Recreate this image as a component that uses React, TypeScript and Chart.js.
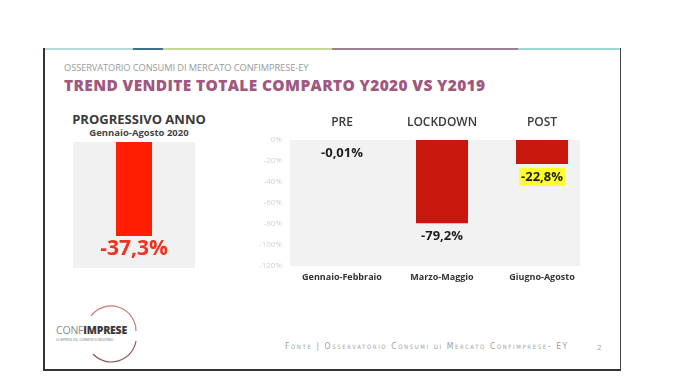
import React, { useEffect, useRef } from "react";
import { Chart, registerables } from "chart.js";

Chart.register(...registerables);

// ---- data ----
const phases = ["PRE", "LOCKDOWN", "POST"];
const periods = ["Gennaio-Febbraio", "Marzo-Maggio", "Giugno-Agosto"];
const changes = [-0.01, -79.2, -22.8];
const highlighted = [false, false, true];
const yTicks = [0, -20, -40, -60, -80, -100, -120];
const ytdPeriod = ["Gennaio-Agosto 2020"];
const ytdChange = [-37.3];

const fmt = (v: number) => String(v).replace(".", ",") + "%";
const FONT = '"Open Sans", "DejaVu Sans", sans-serif';

function RightChart() {
  const ref = useRef<HTMLCanvasElement>(null);
  useEffect(() => {
    const labelPlugin = {
      id: "valLabels",
      afterDatasetsDraw(chart: any) {
        const ctx = chart.ctx;
        const xs = chart.scales.x;
        const ys = chart.scales.y;
        ctx.save();
        ctx.textAlign = "center";
        ctx.textBaseline = "middle";
        ctx.font = `600 12px ${FONT}`;
        ctx.fillStyle = "#3a3a3a";
        phases.forEach((p, i) => {
          ctx.fillText(p, xs.getPixelForValue(i), chart.chartArea.top - 17);
        });
        ctx.font = `bold 13px ${FONT}`;
        changes.forEach((v, i) => {
          const x = xs.getPixelForValue(i);
          const y = ys.getPixelForValue(v) + 13;
          const t = fmt(v);
          if (highlighted[i]) {
            const w = ctx.measureText(t).width + 4;
            ctx.fillStyle = "#ffff2e";
            ctx.fillRect(x - w / 2, y - 9, w, 18);
          }
          ctx.fillStyle = "#1e1e1e";
          ctx.fillText(t, x, y);
        });
        ctx.restore();
      },
    };
    const bgPlugin = {
      id: "bg",
      beforeDraw(chart: any) {
        const { ctx, chartArea } = chart;
        ctx.save();
        ctx.fillStyle = "#f2f2f2";
        ctx.fillRect(chartArea.left, chartArea.top, chartArea.right - chartArea.left, chartArea.bottom - chartArea.top);
        ctx.restore();
      },
    };
    const chart = new Chart(ref.current!, {
      type: "bar",
      data: {
        datasets: [
          {
            data: changes.map((v, i) => ({ x: i, y: v })),
            backgroundColor: "#c8170d",
            categoryPercentage: 1,
            barPercentage: 0.52,
          },
        ],
      },
      options: {
        animation: false,
        responsive: false,
        maintainAspectRatio: false,
        layout: { padding: { top: 35, right: 20, left: 0, bottom: 0 } },
        plugins: { legend: { display: false }, tooltip: { enabled: false } },
        scales: {
          x: {
            type: "linear",
            offset: false,
            min: -0.52,
            max: 2.38,
            grid: { display: false, drawTicks: false },
            border: { display: false },
            afterBuildTicks: (axis: any) => {
              axis.ticks = periods.map((_, i) => ({ value: i }));
            },
            afterFit: (s: any) => {
              s.height = 24;
            },
            ticks: {
              autoSkip: false,
              maxRotation: 0,
              padding: 6,
              color: "#333333",
              font: { family: FONT, size: 9, weight: "bold" },
              callback: (v: any) => periods[Number(v)] ?? "",
            },
          },
          y: {
            min: yTicks[yTicks.length - 1],
            max: yTicks[0],
            grid: { display: false, drawTicks: false },
            border: { display: false },
            afterBuildTicks: (axis: any) => {
              axis.ticks = yTicks.map((v) => ({ value: v }));
            },
            afterFit: (s: any) => {
              s.width = 50;
            },
            ticks: {
              padding: 8,
              color: "#d2d2d2",
              font: { family: FONT, size: 8 },
              callback: (v: any) => v + "%",
            },
          },
        },
      },
      plugins: [bgPlugin, labelPlugin],
    } as any);
    return () => chart.destroy();
  }, []);
  return (
    <canvas
      ref={ref}
      width={360}
      height={185}
      style={{ position: "absolute", left: 240, top: 105, width: 360, height: 185 }}
    />
  );
}

function LeftChart() {
  const ref = useRef<HTMLCanvasElement>(null);
  useEffect(() => {
    const plugin = {
      id: "ytd",
      beforeDraw(chart: any) {
        const { ctx, chartArea } = chart;
        ctx.save();
        ctx.fillStyle = "#f1f1f1";
        ctx.fillRect(chartArea.left, chartArea.top, chartArea.right - chartArea.left, chartArea.bottom - chartArea.top);
        ctx.restore();
      },
      afterDatasetsDraw(chart: any) {
        const ctx = chart.ctx;
        const xs = chart.scales.x;
        const ys = chart.scales.y;
        ctx.save();
        ctx.textAlign = "center";
        ctx.textBaseline = "middle";
        ctx.font = `bold 21px ${FONT}`;
        ctx.fillStyle = "#f2301e";
        ytdChange.forEach((v, i) => {
          ctx.fillText(fmt(v), xs.getPixelForValue(i), ys.getPixelForValue(v) + 13);
        });
        ctx.restore();
      },
    };
    const chart = new Chart(ref.current!, {
      type: "bar",
      data: {
        labels: ytdPeriod,
        datasets: [
          {
            data: ytdChange,
            backgroundColor: "#ff1e00",
            categoryPercentage: 1,
            barPercentage: 0.295,
          },
        ],
      },
      options: {
        animation: false,
        responsive: false,
        maintainAspectRatio: false,
        layout: { padding: 0 },
        plugins: { legend: { display: false }, tooltip: { enabled: false } },
        scales: {
          x: { display: false },
          y: { display: false, min: -50, max: 0 },
        },
      },
      plugins: [plugin],
    } as any);
    return () => chart.destroy();
  }, []);
  return (
    <canvas
      ref={ref}
      width={122}
      height={126}
      style={{ position: "absolute", left: 73, top: 142, width: 122, height: 126 }}
    />
  );
}

export default function App() {
  const abs = (s: React.CSSProperties): React.CSSProperties => ({ position: "absolute", ...s });
  return (
    <div
      style={{
        position: "fixed",
        left: 0,
        top: 0,
        width: 696,
        height: 385,
        background: "#ffffff",
        overflow: "hidden",
        fontFamily: FONT,
      }}
    >
      {/* slide frame */}
      <div style={abs({ left: 44, top: 48, width: 89, height: 2, background: "#b5dada" })} />
      <div style={abs({ left: 133, top: 48, width: 30, height: 2, background: "#3e7088" })} />
      <div style={abs({ left: 163, top: 48, width: 169, height: 2, background: "#c4d89a" })} />
      <div style={abs({ left: 332, top: 48, width: 186, height: 2, background: "#9e8090" })} />
      <div style={abs({ left: 518, top: 48, width: 102, height: 2, background: "#9fd6d6" })} />
      <div style={abs({ left: 43, top: 48, width: 2, height: 323, background: "#333333" })} />
      <div style={abs({ left: 620, top: 48, width: 1, height: 323, background: "#444444" })} />
      <div style={abs({ left: 43, top: 369, width: 578, height: 2, background: "#333333" })} />

      {/* header texts */}
      <div style={abs({ left: 64, top: 61, fontSize: 9.3, color: "#9a9a9a", whiteSpace: "nowrap", letterSpacing: -0.1 })}>
        OSSERVATORIO CONSUMI DI MERCATO CONFIMPRESE-EY
      </div>
      <div
        style={abs({
          left: 64,
          top: 74,
          fontSize: 15.5,
          fontWeight: 800,
          color: "#a0587e",
          whiteSpace: "nowrap",
          letterSpacing: 0.35,
        })}
      >
        TREND VENDITE TOTALE COMPARTO Y2020 VS Y2019
      </div>

      {/* left panel titles */}
      <div style={abs({ left: 54, width: 170, top: 110, textAlign: "center", fontSize: 13, fontWeight: 700, color: "#3a3a3a", whiteSpace: "nowrap" })}>
        PROGRESSIVO ANNO
      </div>
      <div style={abs({ left: 54, width: 170, top: 126, textAlign: "center", fontSize: 9.5, fontWeight: 700, color: "#444444", whiteSpace: "nowrap" })}>
        {ytdPeriod[0]}
      </div>

      <LeftChart />
      <RightChart />

      {/* logo */}
      <svg style={abs({ left: 51, top: 304, width: 100, height: 62 })} viewBox="0 0 100 62">
        <path d="M 40 12 A 25 25 0 0 1 85 27" fill="none" stroke="#c97a74" strokeWidth="1.2" />
        <path d="M 85 37 A 25 25 0 0 1 42 50" fill="none" stroke="#8c5a5a" strokeWidth="1.2" />
      </svg>
      <div style={abs({ left: 56, top: 323, fontSize: 10.5, whiteSpace: "nowrap", letterSpacing: -0.2 })}>
        <span style={{ color: "#8a8a8a" }}>CONF</span>
        <span style={{ color: "#3a3a3a", fontWeight: 800 }}>IMPRESE</span>
      </div>
      <div style={abs({ left: 56, top: 338, fontSize: 3, color: "#777", whiteSpace: "nowrap" })}>
        LE IMPRESE DEL COMMERCIO MODERNO
      </div>

      {/* footer */}
      <div
        style={abs({
          left: 285,
          top: 341,
          fontSize: 8.5,
          color: "#a0a0a0",
          whiteSpace: "nowrap",
          fontVariant: "small-caps",
          letterSpacing: 1.6,
          fontFamily: '"DejaVu Sans Condensed", "DejaVu Sans", sans-serif',
        })}
      >
        Fonte | Osservatorio Consumi di Mercato Confimprese- EY
      </div>
      <div style={abs({ left: 597, top: 341, fontSize: 8, color: "#a0a0a0" })}>2</div>
    </div>
  );
}
